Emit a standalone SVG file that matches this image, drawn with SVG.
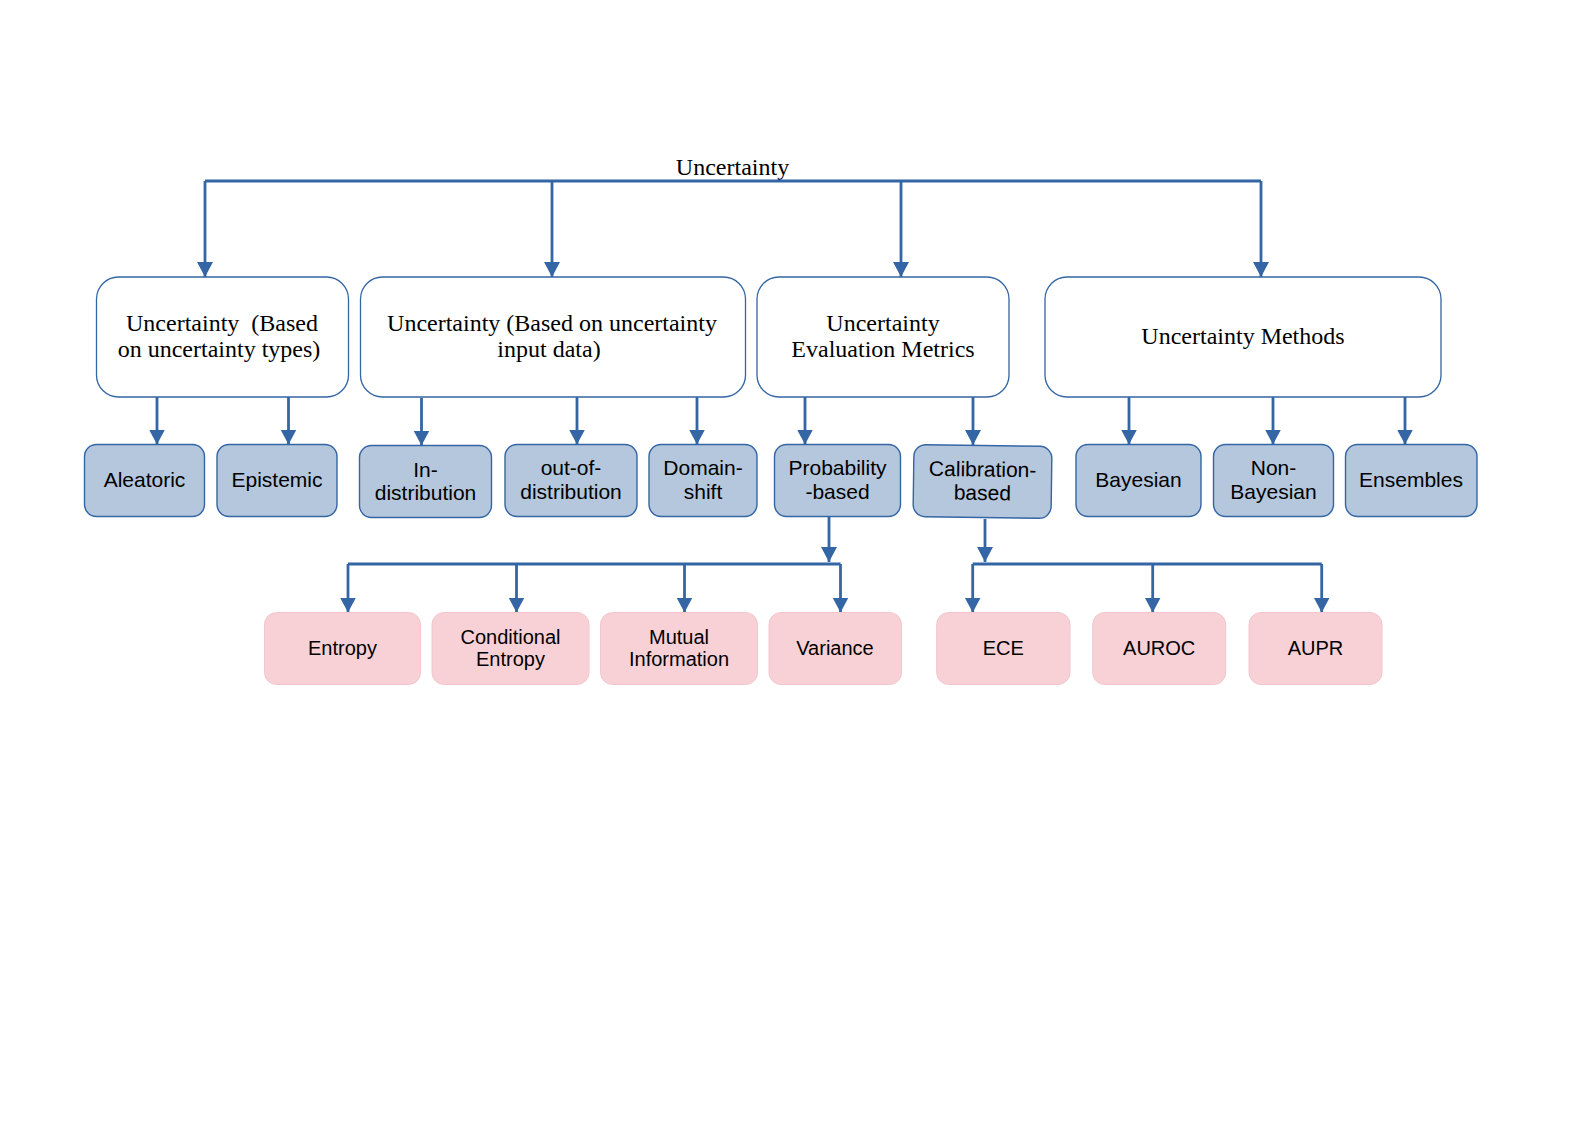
<svg xmlns="http://www.w3.org/2000/svg" width="1588" height="1123" viewBox="0 0 1588 1123">
<style>
.bg{fill:#ffffff}
.big{fill:#ffffff;stroke:#3465a4;stroke-width:1.3}
.blue{fill:#b4c7dc;stroke:#3465a4;stroke-width:1.4}
.pink{fill:#f7d1d6;stroke:#f3c6cc;stroke-width:1}
.serif{font-family:"Liberation Serif","Times New Roman",serif;font-size:24px;fill:#000;text-anchor:middle;white-space:pre}
.sans{font-family:"Liberation Sans",Arial,sans-serif;font-size:21px;fill:#000;text-anchor:middle}
.sans20{font-family:"Liberation Sans",Arial,sans-serif;font-size:20px;fill:#000;text-anchor:middle}
.conn path{fill:none;stroke:#3465a4;stroke-width:2.8}
</style>
<defs>
<marker id="arr" markerUnits="userSpaceOnUse" markerWidth="17" markerHeight="17" refX="15" refY="8" orient="auto">
<path d="M0,0 L15,8 L0,16 z" fill="#3465a4"/>
</marker>
</defs>
<rect class="bg" x="0" y="0" width="1588" height="1123"/>
<text class="serif" x="732.5" y="175">Uncertainty</text>

<g id="conn" class="conn">
<path d="M205,181 H1261"/>
<path d="M205,181 V277" marker-end="url(#arr)"/>
<path d="M552,181 V277" marker-end="url(#arr)"/>
<path d="M901,181 V277" marker-end="url(#arr)"/>
<path d="M1261,181 V277" marker-end="url(#arr)"/>

<path d="M157,397 V444.5" marker-end="url(#arr)"/>
<path d="M288.5,397 V444.5" marker-end="url(#arr)"/>
<path d="M421.5,398 V445.5" marker-end="url(#arr)"/>
<path d="M577,397 V444.5" marker-end="url(#arr)"/>
<path d="M697,397 V444.5" marker-end="url(#arr)"/>
<path d="M805,397 V444.5" marker-end="url(#arr)"/>
<path d="M973,397 V445" marker-end="url(#arr)"/>
<path d="M1129,397 V444.5" marker-end="url(#arr)"/>
<path d="M1273,397 V444.5" marker-end="url(#arr)"/>
<path d="M1405,397 V444.5" marker-end="url(#arr)"/>

<path d="M829,517 V562" marker-end="url(#arr)"/>
<path d="M348,564 H840.5"/>
<path d="M348,564 V612.5" marker-end="url(#arr)"/>
<path d="M516.5,564 V612.5" marker-end="url(#arr)"/>
<path d="M684.5,564 V612.5" marker-end="url(#arr)"/>
<path d="M840.5,564 V612.5" marker-end="url(#arr)"/>

<path d="M985,519 V562" marker-end="url(#arr)"/>
<path d="M972.7,564 H1321.7"/>
<path d="M972.7,564 V612.5" marker-end="url(#arr)"/>
<path d="M1152.7,564 V612.5" marker-end="url(#arr)"/>
<path d="M1321.7,564 V612.5" marker-end="url(#arr)"/>
</g>

<g id="n-types">
<rect class="big" x="96.5" y="277" width="252" height="120" rx="22"/>
<text class="serif" x="222" y="331">Uncertainty  (Based</text>
<text class="serif" x="219" y="357">on uncertainty types)</text>
</g>
<g id="n-input">
<rect class="big" x="360.5" y="277" width="385" height="120" rx="22"/>
<text class="serif" x="552" y="331">Uncertainty (Based on uncertainty</text>
<text class="serif" x="549" y="357">input data)</text>
</g>
<g id="n-metrics">
<rect class="big" x="757" y="277" width="252" height="120" rx="22"/>
<text class="serif" x="883" y="331">Uncertainty</text>
<text class="serif" x="883" y="357">Evaluation Metrics</text>
</g>
<g id="n-methods">
<rect class="big" x="1045" y="277" width="396" height="120" rx="22"/>
<text class="serif" x="1243" y="344">Uncertainty Methods</text>
</g>

<g id="n-aleatoric">
<rect class="blue" x="84.5" y="444.5" width="120" height="72" rx="12"/>
<text class="sans" x="144.5" y="487">Aleatoric</text>
</g>
<g id="n-epistemic">
<rect class="blue" x="217" y="444.5" width="120" height="72" rx="12"/>
<text class="sans" x="277" y="487">Epistemic</text>
</g>
<g id="n-indist">
<rect class="blue" x="359.5" y="445.5" width="132" height="72" rx="12"/>
<text class="sans" x="425.5" y="476.5">In-</text>
<text class="sans" x="425.5" y="500">distribution</text>
</g>
<g id="n-ood">
<rect class="blue" x="505" y="444.5" width="132" height="72" rx="12"/>
<text class="sans" x="571" y="475">out-of-</text>
<text class="sans" x="571" y="498.5">distribution</text>
</g>
<g id="n-domain">
<rect class="blue" x="649" y="444.5" width="108" height="72" rx="12"/>
<text class="sans" x="703" y="475">Domain-</text>
<text class="sans" x="703" y="498.5">shift</text>
</g>
<g id="n-prob">
<rect class="blue" x="774.5" y="444.5" width="126" height="72" rx="12"/>
<text class="sans" x="837.5" y="475">Probability</text>
<text class="sans" x="837.5" y="498.5">-based</text>
</g>
<g id="n-calib" transform="rotate(0.8 982.5 481.5)">
<rect class="blue" x="913.5" y="445.5" width="138" height="72" rx="12"/>
<text class="sans" x="982.5" y="476.5">Calibration-</text>
<text class="sans" x="982.5" y="500">based</text>
</g>
<g id="n-bayes">
<rect class="blue" x="1076" y="444.5" width="125" height="72" rx="12"/>
<text class="sans" x="1138.5" y="487">Bayesian</text>
</g>
<g id="n-nonbayes">
<rect class="blue" x="1213.5" y="444.5" width="120" height="72" rx="12"/>
<text class="sans" x="1273.5" y="475">Non-</text>
<text class="sans" x="1273.5" y="498.5">Bayesian</text>
</g>
<g id="n-ens">
<rect class="blue" x="1345.5" y="444.5" width="131.5" height="72" rx="12"/>
<text class="sans" x="1411" y="487">Ensembles</text>
</g>

<g id="n-entropy">
<rect class="pink" x="264.5" y="612.5" width="156" height="72" rx="12"/>
<text class="sans20" x="342.5" y="655">Entropy</text>
</g>
<g id="n-condent">
<rect class="pink" x="432" y="612.5" width="157" height="72" rx="12"/>
<text class="sans20" x="510.5" y="644">Conditional</text>
<text class="sans20" x="510.5" y="666">Entropy</text>
</g>
<g id="n-mi">
<rect class="pink" x="600.5" y="612.5" width="157" height="72" rx="12"/>
<text class="sans20" x="679" y="644">Mutual</text>
<text class="sans20" x="679" y="666">Information</text>
</g>
<g id="n-var">
<rect class="pink" x="769" y="612.5" width="132.5" height="72" rx="12"/>
<text class="sans20" x="835" y="655">Variance</text>
</g>
<g id="n-ece">
<rect class="pink" x="936.7" y="612.5" width="133.3" height="72" rx="12"/>
<text class="sans20" x="1003.3" y="655">ECE</text>
</g>
<g id="n-auroc">
<rect class="pink" x="1092.7" y="612.5" width="133" height="72" rx="12"/>
<text class="sans20" x="1159.2" y="655">AUROC</text>
</g>
<g id="n-aupr">
<rect class="pink" x="1249" y="612.5" width="133" height="72" rx="12"/>
<text class="sans20" x="1315.5" y="655">AUPR</text>
</g>
</svg>
